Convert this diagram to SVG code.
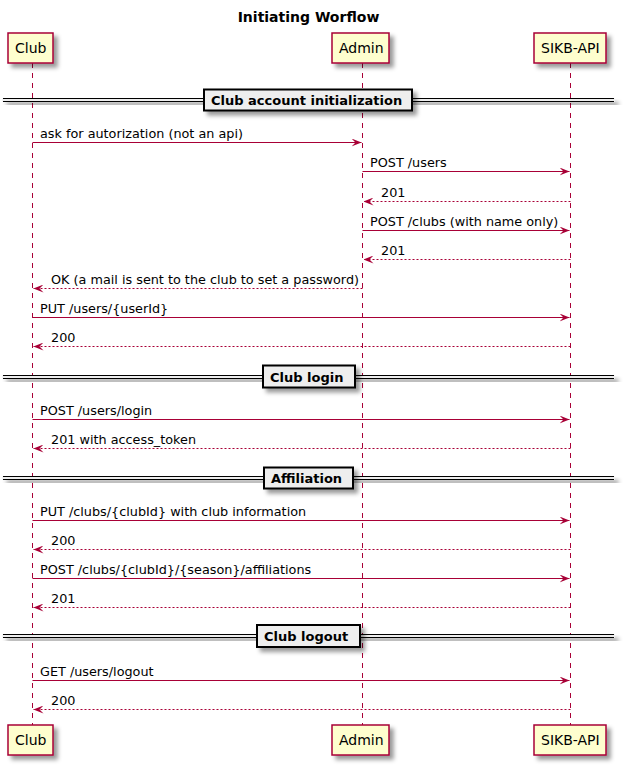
<svg xmlns="http://www.w3.org/2000/svg" width="625" height="766" viewBox="0 0 625 766">
<defs>
<filter id="sh" x="-1" y="-1" width="300%" height="300%">
<feGaussianBlur result="b1" stdDeviation="2"/>
<feColorMatrix in="b1" result="b2" type="matrix" values="0 0 0 0 0 0 0 0 0 0 0 0 0 0 0 0 0 0 .4 0"/>
<feOffset dx="4" dy="4" in="b2" result="b3"/>
<feBlend in="SourceGraphic" in2="b3" mode="normal"/>
</filter>
<marker id="ah" viewBox="0 0 10 8" refX="10" refY="4" markerWidth="10" markerHeight="8" markerUnits="userSpaceOnUse" orient="auto">
<polygon points="0,0 10,4 0,8 4,4" fill="#A80036"/>
</marker>
</defs>
<style>
.title{font-family:"DejaVu Sans",sans-serif;font-size:14px;font-weight:bold;fill:#000}
.pbox{fill:#FEFECE;stroke:#A80036;stroke-width:1.5}
.ptxt{font-family:"DejaVu Sans",sans-serif;font-size:14px;fill:#000}
.life{stroke:#A80036;stroke-width:1;stroke-dasharray:5,5}
.msg{stroke:#A80036;stroke-width:1;fill:none}
.ret{stroke:#A80036;stroke-width:1;fill:none;stroke-dasharray:2,2}
.mtxt{font-family:"DejaVu Sans",sans-serif;font-size:12.8px;fill:#000}
.dband{fill:#EEEEEE;stroke:#EEEEEE;stroke-width:1}
.dline{stroke:#000;stroke-width:1}
.dbox{fill:#EEEEEE;stroke:#000;stroke-width:2}
.dtxt{font-family:"DejaVu Sans",sans-serif;font-size:13px;font-weight:bold;fill:#000}
</style>
<rect width="625" height="766" fill="#FFFFFF"/>
<text class="title" x="308.5" y="22" text-anchor="middle">Initiating Worflow</text>

<g id="lifelines">
<line class="life" x1="32.5" y1="63" x2="32.5" y2="725"/>
<line class="life" x1="362.5" y1="63" x2="362.5" y2="725"/>
<line class="life" x1="570.5" y1="63" x2="570.5" y2="725"/>
</g>

<g id="club">
<rect class="pbox" filter="url(#sh)" x="8" y="33" width="45" height="30"/>
<text class="ptxt" x="15" y="52.5">Club</text>
<rect class="pbox" filter="url(#sh)" x="8" y="725" width="45" height="30"/>
<text class="ptxt" x="15" y="744.5">Club</text>
</g>
<g id="admin">
<rect class="pbox" filter="url(#sh)" x="332" y="33" width="57" height="30"/>
<text class="ptxt" x="339" y="52.5">Admin</text>
<rect class="pbox" filter="url(#sh)" x="332" y="725" width="57" height="30"/>
<text class="ptxt" x="339" y="744.5">Admin</text>
</g>
<g id="sikb-api">
<rect class="pbox" filter="url(#sh)" x="534" y="33" width="72" height="30"/>
<text class="ptxt" x="541" y="52.5">SIKB-API</text>
<rect class="pbox" filter="url(#sh)" x="534" y="725" width="72" height="30"/>
<text class="ptxt" x="541" y="744.5">SIKB-API</text>
</g>

<g id="div-init">
<rect class="dband" filter="url(#sh)" x="3" y="98.5" width="611" height="3"/>
<line class="dline" x1="3" y1="98.5" x2="614" y2="98.5"/>
<line class="dline" x1="3" y1="101.5" x2="614" y2="101.5"/>
<rect class="dbox" filter="url(#sh)" x="204" y="89.5" width="208" height="21"/>
<text class="dtxt" x="211" y="105">Club account initialization</text>
</g>
<g id="div-login">
<rect class="dband" filter="url(#sh)" x="3" y="375.5" width="611" height="3"/>
<line class="dline" x1="3" y1="375.5" x2="614" y2="375.5"/>
<line class="dline" x1="3" y1="378.5" x2="614" y2="378.5"/>
<rect class="dbox" filter="url(#sh)" x="263" y="365.5" width="92" height="22"/>
<text class="dtxt" x="270" y="381.5">Club login</text>
</g>
<g id="div-affiliation">
<rect class="dband" filter="url(#sh)" x="3" y="476.5" width="611" height="3"/>
<line class="dline" x1="3" y1="476.5" x2="614" y2="476.5"/>
<line class="dline" x1="3" y1="479.5" x2="614" y2="479.5"/>
<rect class="dbox" filter="url(#sh)" x="264" y="467.5" width="89" height="21"/>
<text class="dtxt" x="271" y="483">Affiliation</text>
</g>
<g id="div-logout">
<rect class="dband" filter="url(#sh)" x="3" y="634.5" width="611" height="3"/>
<line class="dline" x1="3" y1="634.5" x2="614" y2="634.5"/>
<line class="dline" x1="3" y1="637.5" x2="614" y2="637.5"/>
<rect class="dbox" filter="url(#sh)" x="257" y="625" width="103" height="22"/>
<text class="dtxt" x="264" y="641">Club logout</text>
</g>

<g id="connectors">
<line class="msg" marker-end="url(#ah)" x1="32.5" y1="142.5" x2="361.5" y2="142.5"/>
<text class="mtxt" x="40" y="137.5">ask for autorization (not an api)</text>
<line class="msg" marker-end="url(#ah)" x1="362.5" y1="171.5" x2="569.5" y2="171.5"/>
<text class="mtxt" x="370" y="166.5">POST /users</text>
<line class="ret" marker-end="url(#ah)" x1="570.5" y1="201.5" x2="363.5" y2="201.5"/>
<text class="mtxt" x="381" y="196.5">201</text>
<line class="msg" marker-end="url(#ah)" x1="362.5" y1="230.5" x2="569.5" y2="230.5"/>
<text class="mtxt" x="370" y="225.5">POST /clubs (with name only)</text>
<line class="ret" marker-end="url(#ah)" x1="570.5" y1="259.5" x2="363.5" y2="259.5"/>
<text class="mtxt" x="381" y="254.5">201</text>
<line class="ret" marker-end="url(#ah)" x1="362.5" y1="288.5" x2="33.5" y2="288.5"/>
<text class="mtxt" x="51" y="283.5">OK (a mail is sent to the club to set a password)</text>
<line class="msg" marker-end="url(#ah)" x1="32.5" y1="317.5" x2="569.5" y2="317.5"/>
<text class="mtxt" x="40" y="312.5">PUT /users/{userId}</text>
<line class="ret" marker-end="url(#ah)" x1="570.5" y1="346.5" x2="33.5" y2="346.5"/>
<text class="mtxt" x="51" y="341.5">200</text>
<line class="msg" marker-end="url(#ah)" x1="32.5" y1="419.5" x2="569.5" y2="419.5"/>
<text class="mtxt" x="40" y="414.5">POST /users/login</text>
<line class="ret" marker-end="url(#ah)" x1="570.5" y1="448.5" x2="33.5" y2="448.5"/>
<text class="mtxt" x="51" y="443.5">201 with access_token</text>
<line class="msg" marker-end="url(#ah)" x1="32.5" y1="520.5" x2="569.5" y2="520.5"/>
<text class="mtxt" x="40" y="515.5">PUT /clubs/{clubId} with club information</text>
<line class="ret" marker-end="url(#ah)" x1="570.5" y1="549.5" x2="33.5" y2="549.5"/>
<text class="mtxt" x="51" y="544.5">200</text>
<line class="msg" marker-end="url(#ah)" x1="32.5" y1="578.5" x2="569.5" y2="578.5"/>
<text class="mtxt" x="40" y="573.5">POST /clubs/{clubId}/{season}/affiliations</text>
<line class="ret" marker-end="url(#ah)" x1="570.5" y1="607.5" x2="33.5" y2="607.5"/>
<text class="mtxt" x="51" y="602.5">201</text>
<line class="msg" marker-end="url(#ah)" x1="32.5" y1="680.5" x2="569.5" y2="680.5"/>
<text class="mtxt" x="40" y="675.5">GET /users/logout</text>
<line class="ret" marker-end="url(#ah)" x1="570.5" y1="709.5" x2="33.5" y2="709.5"/>
<text class="mtxt" x="51" y="704.5">200</text>
</g>
</svg>
